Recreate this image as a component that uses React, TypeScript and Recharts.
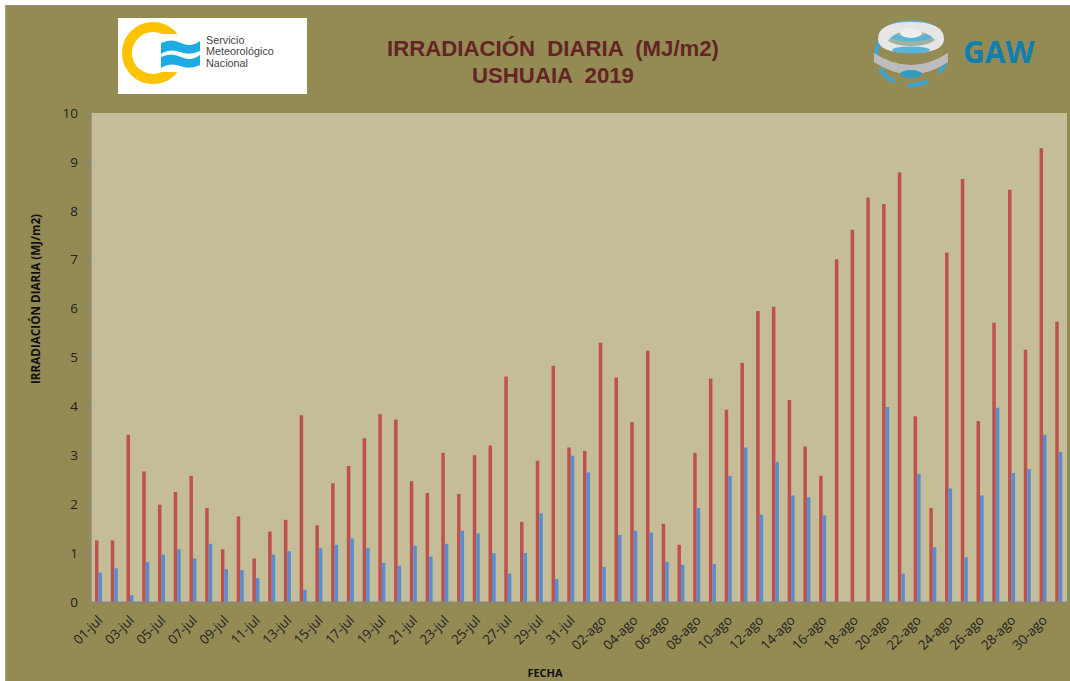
import React from "react";
import { BarChart, Bar, XAxis, YAxis, CartesianGrid } from "recharts";

const julyDays = [
  "01-jul", "02-jul", "03-jul", "04-jul", "05-jul", "06-jul", "07-jul", "08-jul", "09-jul", "10-jul",
  "11-jul", "12-jul", "13-jul", "14-jul", "15-jul", "16-jul", "17-jul", "18-jul", "19-jul", "20-jul",
  "21-jul", "22-jul", "23-jul", "24-jul", "25-jul", "26-jul", "27-jul", "28-jul", "29-jul", "30-jul", "31-jul",
];
const augustDays = [
  "01-ago", "02-ago", "03-ago", "04-ago", "05-ago", "06-ago", "07-ago", "08-ago", "09-ago", "10-ago",
  "11-ago", "12-ago", "13-ago", "14-ago", "15-ago", "16-ago", "17-ago", "18-ago", "19-ago", "20-ago",
  "21-ago", "22-ago", "23-ago", "24-ago", "25-ago", "26-ago", "27-ago", "28-ago", "29-ago", "30-ago", "31-ago",
];

const redJuly = [
  1.26, 1.26, 3.42, 2.67, 1.99, 2.25, 2.58, 1.92, 1.08, 1.75,
  0.89, 1.44, 1.68, 3.82, 1.57, 2.43, 2.78, 3.35, 3.84, 3.73,
  2.47, 2.23, 3.05, 2.21, 3.0, 3.2, 4.61, 1.64, 2.89, 4.83, 3.16,
];
const redAugust = [
  3.09, 5.3, 4.59, 3.68, 5.14, 1.6, 1.17, 3.05, 4.57, 3.93,
  4.89, 5.95, 6.04, 4.13, 3.18, 2.58, 7.01, 7.61, 8.27, 8.14,
  8.79, 3.8, 1.92, 7.14, 8.65, 3.7, 5.71, 8.43, 5.16, 9.28, 5.73,
];
const blueJuly = [
  0.6, 0.69, 0.14, 0.82, 0.97, 1.08, 0.89, 1.19, 0.67, 0.65,
  0.49, 0.97, 1.04, 0.25, 1.1, 1.17, 1.3, 1.1, 0.8, 0.74,
  1.15, 0.93, 1.19, 1.46, 1.4, 1.0, 0.58, 1.0, 1.81, 0.47, 2.99,
];
const blueAugust = [
  2.65, 0.72, 1.37, 1.46, 1.42, 0.82, 0.76, 1.92, 0.78, 2.58,
  3.16, 1.79, 2.86, 2.18, 2.14, 1.77, 0, 0, 0, 3.99,
  0.58, 2.62, 1.12, 2.32, 0.91, 2.18, 3.97, 2.64, 2.72, 3.42, 3.07,
];
const yTicks = [0, 1, 2, 3, 4, 5, 6, 7, 8, 9, 10];

const days = [...julyDays, ...augustDays];
const red = [...redJuly, ...redAugust];
const blue = [...blueJuly, ...blueAugust];
const data = days.map((day, i) => ({ day, red: red[i], blue: blue[i] }));

const axisFont = '"Open Sans", "Noto Sans", sans-serif';

// rotated date labels, nudged so they end just under the tick
const DateTick = ({ x, y, payload }: any) => (
  <text
    x={x + 4.5}
    y={y + 11}
    transform={`rotate(-45 ${x + 4.5} ${y + 11})`}
    textAnchor="end"
    fontSize={13.3}
    fontFamily={axisFont}
    fill="#222"
  >
    {payload.value}
  </text>
);

// the two logos sit on top of the chart, they are not chart data
const SmnLogo = () => (
  <svg width={189} height={76} style={{ position: "absolute", left: 118, top: 18, background: "#fff" }}>
    <circle cx={35} cy={35} r={26} fill="none" stroke="#fdc300" strokeWidth={10} />
    <rect x={44} y={16} width={40} height={38} fill="#fff" />
    <path d="M43 25 Q53 20 63 25 T82 23 V33 Q72 38 62 34 T43 36 Z" fill="#1cace3" />
    <path d="M43 39 Q53 34 63 39 T82 37 V47 Q72 52 62 48 T43 50 Z" fill="#1cace3" />
    <g fontFamily="Liberation Sans, sans-serif" fontSize={10.8} fill="#444">
      <text x={88} y={26}>Servicio</text>
      <text x={88} y={37}>Meteorológico</text>
      <text x={88} y={49}>Nacional</text>
    </g>
  </svg>
);

const GawLogo = () => (
  <svg width={170} height={80} style={{ position: "absolute", left: 870, top: 15 }}>
    <ellipse cx={41} cy={40} rx={35} ry={30} fill="none" stroke="#3da4cf" strokeWidth={4} strokeDasharray="20 14" />
    <ellipse cx={41} cy={24} rx={28} ry={12} fill="#9fb4a0" />
    <ellipse cx={41} cy={16} rx={24} ry={8} fill="none" stroke="#58b4da" strokeWidth={5} />
    <path d="M8 24 Q8 7 41 7 Q74 7 74 24 Q74 38 41 38 Q8 38 8 24 Z M18 26 Q26 31 41 31 Q58 31 65 25 Q58 16 41 16 Q24 16 18 26 Z" fill="#e6e6e6" fillRule="evenodd" />
    <ellipse cx={41} cy={18} rx={11} ry={5} fill="#eeeeee" />
    <ellipse cx={41} cy={35} rx={19} ry={3.5} fill="#58b4da" />
    <path d="M4 38 Q41 62 78 38 L78 47 Q41 72 4 47 Z" fill="#bcbcbc" />
    <ellipse cx={41} cy={59} rx={11} ry={4} fill="#2f9cc8" />
    <text x={93} y={48} fontFamily="Open Sans, sans-serif" fontWeight={700} fontSize={30} fill="#0f7fb0">GAW</text>
  </svg>
);

export default function App() {
  return (
    <div style={{ position: "absolute", left: 0, top: 0, width: 1070, height: 681, background: "#fff", overflow: "hidden" }}>
      <style>{"body{margin:0}"}</style>
      <div style={{ position: "absolute", left: 5, top: 5, width: 1065, height: 676, background: "#948a54", borderTop: "1px solid #8c8c80", borderLeft: "1px solid #a8a488", boxSizing: "border-box" }} />
      <div style={{ position: "absolute", left: 0, top: 0 }}>
        <BarChart
          width={1070}
          height={681}
          data={data}
          barSize={3.5}
          barGap={0}
          margin={{ top: 113, right: 3, bottom: 0, left: 56 }}
        >
          <CartesianGrid fill="#c4bd97" horizontal={false} vertical={false} />
          <XAxis
            dataKey="day"
            interval={1}
            height={79}
            tickLine={false}
            axisLine={{ stroke: "#868686", strokeWidth: 1.2 }}
            tick={<DateTick />}
          />
          <YAxis
            width={35}
            domain={[0, 10]}
            ticks={yTicks}
            tickSize={5}
            tickMargin={8}
            axisLine={{ stroke: "#868686", strokeWidth: 1.2 }}
            tickLine={{ stroke: "#868686" }}
            tick={{ fontSize: 13.5, fill: "#222", fontFamily: axisFont }}
          />
          <Bar dataKey="red" fill="#c0504d" isAnimationActive={false} />
          <Bar dataKey="blue" fill="#558ed5" isAnimationActive={false} />
        </BarChart>
      </div>
      <SmnLogo />
      <GawLogo />
      <div
        style={{
          position: "absolute", left: 303, top: 35, width: 500, textAlign: "center", whiteSpace: "pre",
          fontFamily: '"Liberation Sans", sans-serif', fontWeight: 700, fontSize: 22.2, lineHeight: "27px", color: "#632523",
        }}
      >
        {"IRRADIACIÓN  DIARIA  (MJ/m2)\nUSHUAIA  2019"}
      </div>
      <div
        style={{
          position: "absolute", left: 35, top: 299, width: 0, height: 0, whiteSpace: "nowrap",
          fontFamily: axisFont, fontWeight: 700, fontSize: 11.7, color: "#111",
        }}
      >
        <span style={{ position: "absolute", transform: "translate(-50%, -50%) rotate(-90deg)" }}>IRRADIACIÓN DIARIA (MJ/m2)</span>
      </div>
      <div
        style={{
          position: "absolute", left: 445, top: 665, width: 200, textAlign: "center",
          fontFamily: axisFont, fontWeight: 700, fontSize: 11, color: "#111",
        }}
      >
        FECHA
      </div>
    </div>
  );
}
